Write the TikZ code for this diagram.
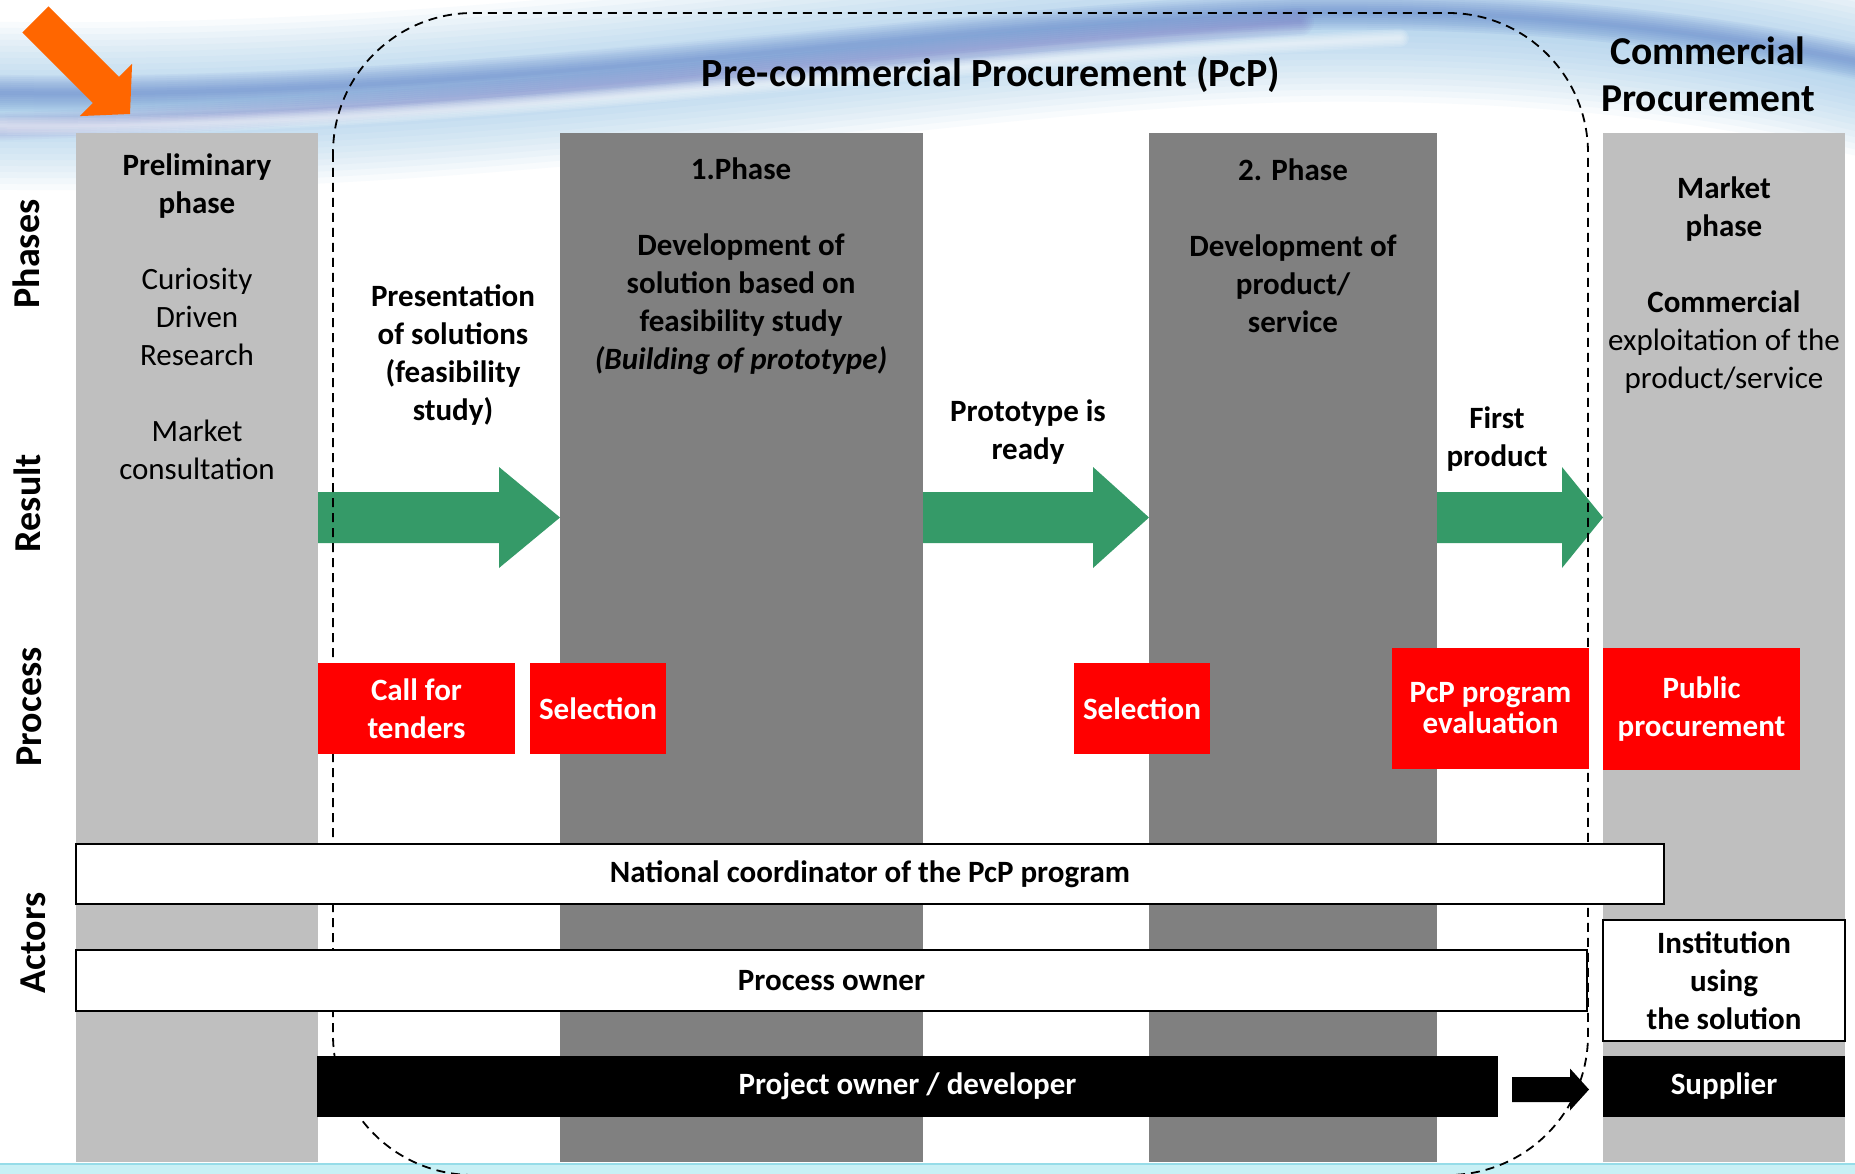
\documentclass[tikz,border=0pt]{standalone}
\usepackage{fontspec}
\setmainfont{Carlito}
\usetikzlibrary{calc}

\definecolor{lgray}{RGB}{191,191,191}
\definecolor{dgray}{RGB}{128,128,128}
\definecolor{pgreen}{RGB}{53,154,104}
\definecolor{pred}{RGB}{255,0,0}
\definecolor{porange}{RGB}{255,102,0}
\definecolor{skyA}{RGB}{130,185,228}
\definecolor{skyB}{RGB}{70,105,190}
\definecolor{skyC}{RGB}{115,95,185}
\definecolor{stripc}{RGB}{200,240,245}
\definecolor{stripl}{RGB}{150,220,232}

\newcommand\resarrow[4]{% from, to, head length, colour
  \fill[#4] let \p1=(#1), \p2=(#2) in
    (\x1,\y1+25.5pt) -- (\x2-#3,\y1+25.5pt) -- (\x2-#3,\y1+50.5pt) -- (\x2,\y1)
    -- (\x2-#3,\y1-50.5pt) -- (\x2-#3,\y1-25.5pt) -- (\x1,\y1-25.5pt) -- cycle;}
\newcommand\blkarrow[2]{% from, to
  \fill[black] let \p1=(#1), \p2=(#2) in
    (\x1,\y1+12.5pt) -- (\x2-19pt,\y1+12.5pt) -- (\x2-19pt,\y1+21pt) -- (\x2,\y1)
    -- (\x2-19pt,\y1-21pt) -- (\x2-19pt,\y1-12.5pt) -- (\x1,\y1-12.5pt) -- cycle;}

\begin{document}
\begin{tikzpicture}[x=1pt,y=-1pt,
  every node/.style={inner sep=0pt, outer sep=0pt},
  bodyfont/.style={font=\fontsize{31}{38}\selectfont, align=center},
  boldfont/.style={font=\bfseries\fontsize{31}{38}\selectfont, align=center},
  colbox/.style={anchor=north west, minimum height=1029pt},
  colL/.style={colbox, fill=lgray},
  colD/.style={colbox, fill=dgray},
  redbox/.style={fill=pred, text=white, boldfont, anchor=north west},
  whitebar/.style={draw=black, line width=1.5pt, fill=white, boldfont, anchor=north west},
  blackbar/.style={fill=black, text=white, boldfont, anchor=north west},
  rowlabel/.style={rotate=90, font=\bfseries\fontsize{38}{44}\selectfont},
  boundary/.style={draw=black, line width=1.8pt, dash pattern=on 9pt off 6pt, rounded corners=140pt},
]
\useasboundingbox (0,0) rectangle (1855,1174);
\fill[white] (0,0) rectangle (1855,1174);

% background swoosh (soft bands built from stacked translucent strokes)
\foreach \w in {12,24,...,168}
  \draw[skyA, opacity=0.055, line width=\w pt, line cap=round]
    (-40,105) .. controls (500,118) and (950,25) .. (1300,18)
    .. controls (1560,14) and (1760,45) .. (1900,80);
\foreach \w in {4,8,...,36}
  \draw[skyB, opacity=0.06, line width=\w pt, line cap=round]
    (-40,92) .. controls (450,105) and (950,22) .. (1300,12)
    .. controls (1560,8) and (1760,40) .. (1900,70);
\foreach \w in {4,8,...,28}
  \draw[skyC, opacity=0.05, line width=\w pt, line cap=round]
    (-60,128) .. controls (400,118) and (800,60) .. (1300,22);
\foreach \w in {3,6,...,18}
  \draw[white, opacity=0.12, line width=\w pt, line cap=round]
    (-40,125) .. controls (400,135) and (900,60) .. (1400,38);
\fill[stripc] (0,1164) rectangle (1855,1174);
\draw[stripl, line width=1.2pt] (0,1164) -- (1855,1164);

% orange pointer
\fill[porange] (48.5,6.4) -- (119.0,76.9) -- (132.1,63.8) -- (130,114)
  -- (79.8,116.1) -- (92.9,103.0) -- (22.4,32.5) -- cycle;

% columns
\node[colL, minimum width=242pt] (prelim) at (76,133) {};
\node[colD, minimum width=363pt] (ph1) at (560,133) {};
\node[colD, minimum width=288pt] (ph2) at (1149,133) {};
\node[colL, minimum width=242pt] (market) at (1603,133) {};

% result arrows
\coordinate (ry) at (0,517.5);
\resarrow{prelim.east |- ry}{ph1.west |- ry}{61pt}{pgreen}
\resarrow{ph1.east |- ry}{ph2.west |- ry}{56pt}{pgreen}
\resarrow{ph2.east |- ry}{market.west |- ry}{41pt}{pgreen}

% PcP boundary
\draw[boundary] (333,13) rectangle (1588,1175);

% titles
\node[font=\bfseries\fontsize{40}{47}\selectfont] (title) at (991,75) {Pre-commercial Procurement (PcP)};
\node[font=\bfseries\fontsize{39.5}{47}\selectfont, align=center] (ctitle) at (1708,74) {Commercial\\Procurement};

% row labels
\node[rowlabel] (lphases) at (26,254) {Phases};
\node[rowlabel] (lresult) at (27,503) {Result};
\node[rowlabel] (lprocess) at (29,707) {Process};
\node[rowlabel] (lactors) at (33,943) {Actors};

% column texts
\node[bodyfont] (prelimtxt) at (197,317) {\textbf{Preliminary}\\\textbf{phase}\\[38pt]Curiosity\\Driven\\Research\\[38pt]Market\\consultation};
\node[boldfont] (ph1txt) at (741,266) {1.Phase\\[38pt]Development of\\solution based on\\feasibility study\\\textit{(Building of prototype)}};
\node[boldfont] (ph2txt) at (1293,246) {2. Phase\\[38pt]Development of\\product/\\service};
\node[bodyfont] (markettxt) at (1724,285) {\textbf{Market}\\\textbf{phase}\\[38pt]\textbf{Commercial}\\exploitation of the\\product/service};

% result texts
\node[boldfont] (prestxt) at (453,355) {Presentation\\of solutions\\(feasibility\\study)};
\node[boldfont] (prototxt) at (1028,432) {Prototype is\\ready};
\node[boldfont] (firsttxt) at (1497,439) {First\\product};

% process boxes
\node[redbox, minimum width=197pt, minimum height=91pt] (cft) at (318,663) {Call for\\tenders};
\node[redbox, minimum width=136pt, minimum height=91pt] (sel1) at (530,663) {Selection};
\node[redbox, minimum width=136pt, minimum height=91pt] (sel2) at (1074,663) {Selection};
\node[redbox, minimum width=197pt, minimum height=121pt, font=\bfseries\fontsize{31}{31}\selectfont] (pcpeval) at (1392,648) {PcP program\\evaluation};
\node[redbox, minimum width=197pt, minimum height=122pt] (pubproc) at (1603,648) {Public\\procurement};

% actors
\node[whitebar, minimum width=1588pt, minimum height=60pt] (natl) at (76,844) {National coordinator of the PcP program};
\node[whitebar, minimum width=1511pt, minimum height=61pt] (powner) at (76,950) {Process owner};
\node[whitebar, minimum width=242pt, minimum height=121pt, align=center] (inst) at (1603,920) {Institution\\using\\the solution};
\node[blackbar, minimum width=1181pt, minimum height=61pt] (proj) at (317,1056) {Project owner / developer};
\node[blackbar, minimum width=242pt, minimum height=61pt] (supp) at (1603,1056) {Supplier};

\coordinate (ba1) at ([xshift=14pt,yshift=-3pt]proj.east);
\coordinate (ba2) at ([xshift=-14pt,yshift=-3pt]supp.west);
\blkarrow{ba1}{ba2}
\end{tikzpicture}
\end{document}
